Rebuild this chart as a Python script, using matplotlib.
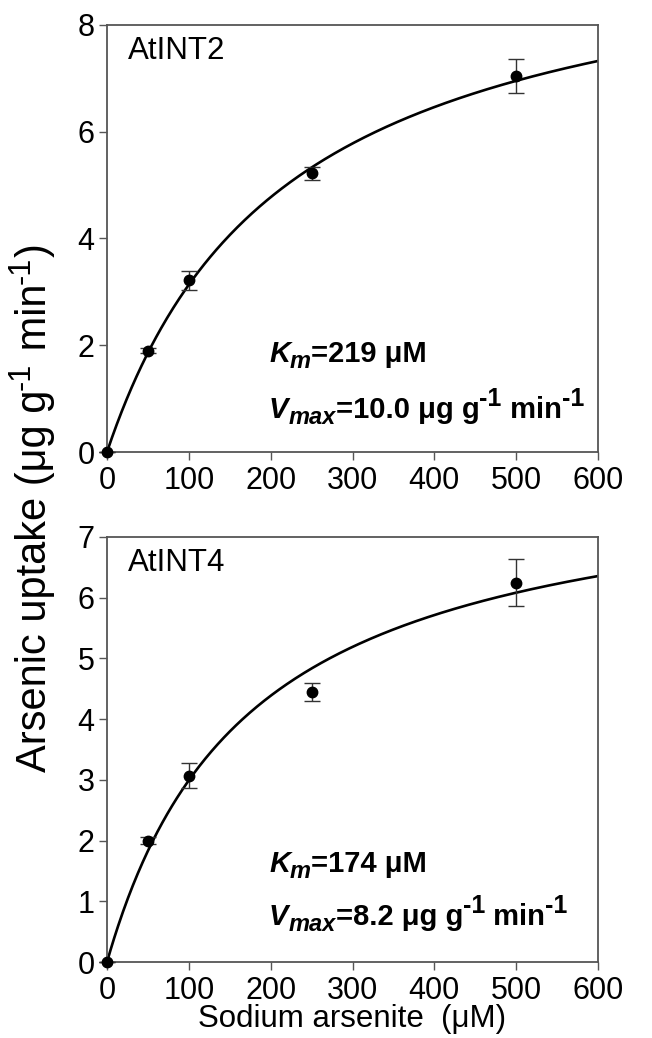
import numpy as np
import matplotlib
matplotlib.use("Agg")
import matplotlib.pyplot as plt
from matplotlib import transforms

plt.rcParams['font.family'] = ['Liberation Sans', 'DejaVu Sans']

# Data
conc = [0, 50, 100, 250, 500]
int2_uptake = [0.0, 1.90, 3.22, 5.22, 7.05]
int2_err = [0.0, 0.05, 0.18, 0.12, 0.32]
int4_uptake = [0.0, 2.00, 3.07, 4.45, 6.25]
int4_err = [0.0, 0.06, 0.20, 0.15, 0.38]
int2_km, int2_vmax = 219, 10.0
int4_km, int4_vmax = 174, 8.2
xticks = [0, 100, 200, 300, 400, 500, 600]
int2_yticks = [0, 2, 4, 6, 8]
int4_yticks = [0, 1, 2, 3, 4, 5, 6, 7]

W, H = 652, 1038
fig = plt.figure(figsize=(W / 100, H / 100), dpi=100)
renderer = fig.canvas.get_renderer()

def frac(l, t, r, b):
    return [l / W, 1 - b / H, (r - l) / W, (b - t) / H]

def rich(x, y, pieces, base, rotation=0):
    adv = 0.0
    for s, size, style, weight, dy in pieces:
        if rotation == 0:
            tr = transforms.offset_copy(base, fig=fig, x=adv, y=dy, units='dots')
        else:
            tr = transforms.offset_copy(base, fig=fig, x=-dy, y=adv, units='dots')
        t = fig.text(x, y, s, transform=tr, fontsize=size, fontstyle=style,
                     fontweight=weight, ha='left', va='baseline',
                     rotation=rotation, rotation_mode='anchor')
        bb = t.get_window_extent(renderer)
        adv += bb.width if rotation == 0 else bb.height

ax1 = fig.add_axes(frac(107, 25, 598, 452))
ax2 = fig.add_axes(frac(107, 537, 598, 962))

panels = [
    (ax1, 'AtINT2', int2_uptake, int2_err, int2_km, int2_vmax, int2_yticks, 8, '10.0', 0.21, 0.08),
    (ax2, 'AtINT4', int4_uptake, int4_err, int4_km, int4_vmax, int4_yticks, 7, '8.2', 0.212, 0.088),
]

xs = np.linspace(0, 600, 400)
for ax, name, y, e, km, vmax, yt, ymax, vtxt, ky, vy in panels:
    ax.plot(xs, vmax * xs / (km + xs), color='black', lw=1.9, zorder=2)
    ax.errorbar(conc, y, yerr=e, fmt='o', color='black', ms=7.5,
                ecolor='#333333', elinewidth=1.0, capsize=6, capthick=1.0,
                zorder=3, clip_on=False)
    ax.set_xlim(0, 600)
    ax.set_ylim(0, ymax)
    ax.set_xticks(xticks)
    ax.set_yticks(yt)
    ax.tick_params(axis='both', direction='out', length=6, width=1.0,
                   color='#555555', labelsize=22)
    ax.tick_params(axis='x', pad=4)
    ax.tick_params(axis='y', pad=3)
    for s in ax.spines.values():
        s.set_color('#555555')
        s.set_linewidth(1.3)
    ax.text(0.043, 0.975, name, transform=ax.transAxes, fontsize=22.5,
            va='top', ha='left')
    rich(0.33, ky, [('K', 21, 'italic', 'bold', 0),
                    ('m', 17, 'italic', 'bold', -6),
                    ('=%d μM' % km, 21, 'normal', 'bold', 0)], ax.transAxes)
    rich(0.33, vy, [('V', 21, 'italic', 'bold', 0),
                    ('max', 17, 'italic', 'bold', -6),
                    ('=' + vtxt + ' μg g', 21, 'normal', 'bold', 0),
                    ('-1', 18, 'normal', 'bold', 12),
                    (' min', 21, 'normal', 'bold', 0),
                    ('-1', 18, 'normal', 'bold', 12)], ax.transAxes)

ax2.set_xlabel('Sodium arsenite  (μM)', fontsize=22.5, labelpad=-1)

rich(46 / W, 1 - 772 / H,
     [('Arsenic uptake (μg g', 30, 'normal', 'normal', 0),
      ('-1', 22, 'normal', 'normal', 16),
      (' min', 30, 'normal', 'normal', 0),
      ('-1', 22, 'normal', 'normal', 16),
      (')', 30, 'normal', 'normal', 0)], fig.transFigure, rotation=90)

fig.savefig('out.png', dpi=100)
